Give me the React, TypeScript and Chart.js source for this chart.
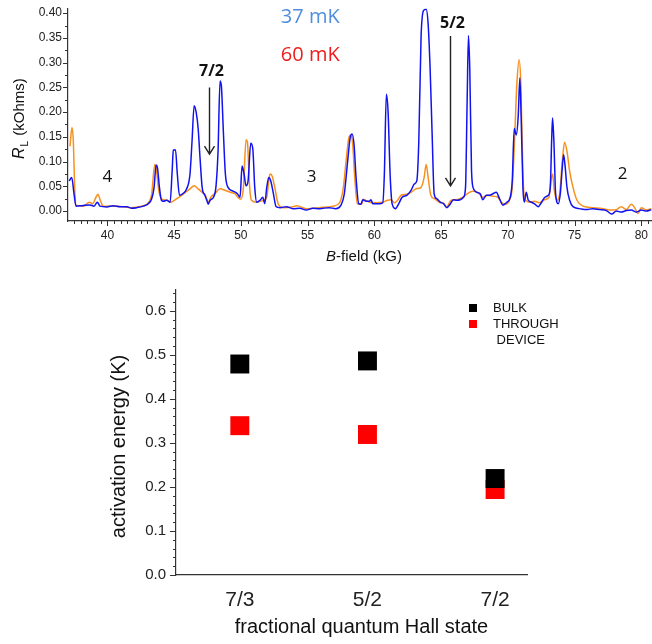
import React, { useEffect, useRef } from 'react';
import { Chart, registerables } from 'chart.js';

Chart.register(...registerables);

// ---------- Top panel: longitudinal resistance vs B-field ----------
const bField37 = [
  37.13, 37.33, 37.5, 37.65, 38.1, 38.7, 39.0, 39.25, 39.45, 39.95, 40.45, 40.95, 41.45, 41.8, 42.2, 42.7,
  43.07, 43.32, 43.5, 43.65, 43.75, 43.9, 44.05, 44.2, 44.45, 44.7, 44.85, 44.94, 45.1, 45.24, 45.4, 45.64,
  45.94, 46.19, 46.34, 46.5, 46.65, 46.8, 46.94, 47.1, 47.3, 47.45, 47.55, 47.7, 47.95, 48.14, 48.29, 48.44,
  48.54, 48.69, 48.84, 49.04, 49.44, 49.74, 49.94, 50.09, 50.24, 50.39, 50.54, 50.74, 50.89, 51.04, 51.19,
  51.44, 51.64, 51.79, 51.94, 52.09, 52.24, 52.44, 52.64, 52.94, 53.4, 53.9, 54.4, 54.9, 55.4, 55.9, 56.6,
  57.1, 57.5, 57.75, 58.0, 58.18, 58.33, 58.48, 58.63, 58.83, 59.0, 59.13, 59.38, 59.63, 59.75, 59.88, 60.38,
  60.63, 60.75, 60.9, 61.03, 61.18, 61.33, 61.58, 61.83, 62.08, 62.43, 62.75, 63.0, 63.18, 63.33, 63.5, 63.68,
  63.88, 64.03, 64.18, 64.33, 64.48, 64.68, 64.93, 65.18, 65.43, 65.68, 65.93, 66.18, 66.43, 66.68, 66.83,
  66.95, 67.05, 67.15, 67.28, 67.43, 67.68, 67.93, 68.13, 68.38, 68.63, 68.88, 69.13, 69.38, 69.63, 69.93,
  70.18, 70.33, 70.48, 70.63, 70.78, 70.9, 71.0, 71.13, 71.23, 71.38, 71.53, 71.78, 72.03, 72.28, 72.53, 72.78,
  73.03, 73.18, 73.28, 73.35, 73.45, 73.58, 73.78, 73.93, 74.08, 74.18, 74.28, 74.43, 74.63, 74.88, 75.38,
  75.88, 76.38, 76.88, 77.38, 77.78, 78.13, 78.5, 78.88, 79.25, 79.63, 80.0, 80.38, 80.75,
];
const rL37 = [
  0.061, 0.068, 0.035, 0.01, 0.011, 0.0125, 0.01, 0.018, 0.01, 0.0085, 0.011, 0.009, 0.009, 0.006, 0.007, 0.01,
  0.015, 0.025, 0.048, 0.093, 0.088, 0.048, 0.022, 0.02, 0.022, 0.018, 0.08, 0.123, 0.124, 0.075, 0.032, 0.035,
  0.045, 0.075, 0.14, 0.213, 0.2, 0.167, 0.108, 0.048, 0.032, 0.022, 0.014, 0.022, 0.028, 0.051, 0.121, 0.263,
  0.253, 0.16, 0.075, 0.048, 0.04, 0.035, 0.028, 0.091, 0.075, 0.051, 0.061, 0.137, 0.127, 0.048, 0.018,
  0.022, 0.028, 0.015, 0.048, 0.068, 0.061, 0.035, 0.009, 0.007, 0.009, 0.005, 0.006, 0.002, 0.006, 0.005, 0.007,
  0.005, 0.012, 0.035, 0.101, 0.147, 0.156, 0.134, 0.068, 0.015, 0.014, 0.023, 0.02, 0.02, 0.023, 0.015, 0.015,
  0.017, 0.075, 0.236, 0.2, 0.075, 0.015, 0.005, 0.015, 0.028, 0.032, 0.042, 0.055, 0.061, 0.141, 0.352, 0.405,
  0.408, 0.378, 0.286, 0.154, 0.035, 0.025, 0.018, 0.015, 0.007, 0.014, 0.023, 0.022, 0.023, 0.028, 0.048,
  0.22, 0.355, 0.286, 0.081, 0.045, 0.038, 0.035, 0.023, 0.032, 0.032, 0.035, 0.038, 0.025, 0.012, 0.018,
  0.028, 0.061, 0.167, 0.154, 0.193, 0.269, 0.187, 0.048, 0.018, 0.038, 0.022, 0.018, 0.014, 0.009, 0.018, 0.028,
  0.032, 0.048, 0.141, 0.188, 0.141, 0.035, 0.015, 0.035, 0.088, 0.114, 0.094, 0.048, 0.022, 0.009, 0.005,
  0.003, 0.005, 0.003, 0.001, -0.006, 0.0, -0.002, 0.001, 0.002, -0.002, 0.002, 0.0, 0.003,
];
const bField60 = [
  37.2, 37.35, 37.45, 37.55, 37.65, 38.2, 38.65, 38.9, 39.15, 39.3, 39.45, 39.7, 40.2, 40.7, 41.2, 41.7, 42.2,
  42.7, 42.95, 43.32, 43.55, 43.65, 43.85, 44.05, 44.45, 44.74, 45.2, 45.7, 46.19, 46.5, 46.8, 47.1, 47.35,
  47.55, 47.75, 48.07, 48.44, 48.8, 49.2, 49.56, 49.8, 49.99, 50.19, 50.39, 50.49, 50.64, 50.79, 51.19, 51.69,
  51.94, 52.09, 52.19, 52.34, 52.54, 52.79, 53.18, 53.9, 54.2, 54.9, 55.9, 56.9, 57.4, 57.68, 57.88, 58.08,
  58.23, 58.38, 58.53, 58.73, 59.03, 59.18, 59.63, 60.13, 60.63, 61.0, 61.25, 61.5, 61.75, 62.0, 62.38, 62.75,
  63.13, 63.5, 63.73, 63.88, 64.03, 64.23, 64.5, 64.88, 65.13, 65.43, 65.75, 66.13, 66.63, 67.0, 67.38, 67.75,
  68.13, 68.5, 68.88, 69.25, 69.5, 69.83, 70.13, 70.33, 70.5, 70.68, 70.85, 70.98, 71.13, 71.28, 71.63, 72.0,
  72.38, 72.75, 73.08, 73.23, 73.35, 73.48, 73.68, 73.88, 74.08, 74.25, 74.43, 74.63, 74.88, 75.18, 75.63,
  76.38, 77.13, 77.63, 78.13, 78.5, 78.88, 79.25, 79.5, 79.75, 80.0, 80.38, 80.75,
];
const rL60 = [
  0.131, 0.169, 0.14, 0.048, 0.012, 0.01, 0.018, 0.015, 0.028, 0.034, 0.023, 0.01, 0.01, 0.01, 0.009, 0.007, 0.008,
  0.011, 0.014, 0.035, 0.094, 0.088, 0.042, 0.025, 0.022, 0.018, 0.025, 0.035, 0.045, 0.051, 0.045, 0.038, 0.032,
  0.018, 0.028, 0.036, 0.045, 0.042, 0.038, 0.035, 0.027, 0.024, 0.048, 0.144, 0.14, 0.055, 0.022, 0.018, 0.022,
  0.028, 0.061, 0.075, 0.071, 0.048, 0.015, 0.007, 0.009, 0.011, 0.005, 0.007, 0.01, 0.017, 0.048, 0.101, 0.147,
  0.154, 0.134, 0.068, 0.015, 0.014, 0.024, 0.018, 0.017, 0.018, 0.022, 0.023, 0.017, 0.022, 0.032, 0.034, 0.038,
  0.045, 0.048, 0.068, 0.094, 0.068, 0.032, 0.025, 0.018, 0.017, 0.009, 0.022, 0.023, 0.028, 0.036, 0.04, 0.038,
  0.028, 0.032, 0.03, 0.028, 0.018, 0.014, 0.023, 0.048, 0.141, 0.259, 0.306, 0.253, 0.075, 0.023, 0.018, 0.02,
  0.017, 0.023, 0.028, 0.061, 0.075, 0.042, 0.022, 0.035, 0.101, 0.139, 0.121, 0.081, 0.048, 0.022, 0.01,
  0.007, 0.005, 0.002, 0.003, 0.009, 0.003, 0.014, 0.007, -0.005, 0.007, 0.002, 0.005,
];

// annotations in data coordinates [B (kG), R (kOhm)]
const tempLabels = ['37 mK', '60 mK'];
const tempLabelPos = [[55.2, 0.392], [55.2, 0.315]];
const fillingLabels = ['4', '3', '2'];
const fillingLabelPos = [[40.0, 0.069], [55.3, 0.069], [78.6, 0.075]];
const arrowLabels = ['7/2', '5/2'];
const arrowX = [47.62, 65.67];
const arrowTop = [0.25, 0.354];
const arrowBottom = [0.115, 0.051];
const arrowLabelY = [0.283, 0.38];

// ---------- Bottom panel: activation energies ----------
const fqhStates = ['7/3', '5/2', '7/2'];
const bulkGap = [0.479, 0.486, 0.219];
const deviceGap = [0.339, 0.319, 0.194];
const legendLabels = ['BULK', 'THROUGH', ' DEVICE'];

const AX = 'Liberation Sans, Arial, sans-serif';
const ANN = '"Open Sans", "Noto Sans", sans-serif';

function drawMinorTicks(ctx: CanvasRenderingContext2D, scale: any, step: number, majorEvery: number, majorLen: number, minorLen: number, horizontal: boolean) {
  const min = scale.min, max = scale.max;
  const start = Math.ceil(min / step - 1e-9);
  const end = Math.floor(max / step + 1e-9);
  ctx.save();
  ctx.strokeStyle = '#333';
  ctx.lineWidth = 1;
  for (let i = start; i <= end; i++) {
    const v = i * step;
    const major = Math.abs(i % majorEvery) === 0;
    const len = major ? majorLen : minorLen;
    const p = Math.round(scale.getPixelForValue(v)) + 0.5;
    ctx.beginPath();
    if (horizontal) {
      const y0 = scale.top;
      ctx.moveTo(p, y0);
      ctx.lineTo(p, y0 + len);
    } else {
      const x0 = scale.right;
      ctx.moveTo(x0, p);
      ctx.lineTo(x0 - len, p);
    }
    ctx.stroke();
  }
  ctx.restore();
}

const topPlugin = {
  id: 'topDecor',
  afterDraw(chart: any) {
    const ctx: CanvasRenderingContext2D = chart.ctx;
    const xs = chart.scales.x, ys = chart.scales.y;
    const ca = chart.chartArea;
    drawMinorTicks(ctx, xs, 0.5, 10, 5, 3, true);
    drawMinorTicks(ctx, ys, 0.025, 2, 5, 3, false);
    ctx.save();
    // temperature labels
    ctx.textAlign = 'center';
    ctx.textBaseline = 'middle';
    ctx.font = `20px ${ANN}`;
    const tcol = ['#4f8edc', '#f21c1c'];
    tempLabels.forEach((t, i) => {
      ctx.fillStyle = tcol[i];
      ctx.fillText(t, xs.getPixelForValue(tempLabelPos[i][0]), ys.getPixelForValue(tempLabelPos[i][1]));
    });
    // filling factor labels
    ctx.fillStyle = '#111';
    ctx.font = `17px ${ANN}`;
    fillingLabels.forEach((t, i) => {
      ctx.fillText(t, xs.getPixelForValue(fillingLabelPos[i][0]), ys.getPixelForValue(fillingLabelPos[i][1]));
    });
    // arrows
    ctx.font = `bold 16px ${ANN}`;
    arrowLabels.forEach((t, i) => {
      const x = Math.round(xs.getPixelForValue(arrowX[i])) + 0.5;
      const y0 = ys.getPixelForValue(arrowTop[i]);
      const y1 = ys.getPixelForValue(arrowBottom[i]);
      ctx.fillStyle = '#111';
      ctx.fillText(t, x + 2, ys.getPixelForValue(arrowLabelY[i]));
      ctx.strokeStyle = '#222';
      ctx.lineWidth = 1.4;
      ctx.beginPath();
      ctx.moveTo(x, y0);
      ctx.lineTo(x, y1);
      ctx.moveTo(x - 5, y1 - 8);
      ctx.lineTo(x, y1);
      ctx.lineTo(x + 5, y1 - 8);
      ctx.stroke();
    });
    // y title with subscript
    ctx.fillStyle = '#111';
    ctx.textAlign = 'left';
    ctx.textBaseline = 'alphabetic';
    const parts = [
      { t: 'R', f: `italic 16px ${AX}`, dy: 0 },
      { t: 'L', f: `10px ${AX}`, dy: 4 },
      { t: ' (kOhms)', f: `15px ${AX}`, dy: 0 },
    ];
    let total = 0;
    parts.forEach((p) => { ctx.font = p.f; total += ctx.measureText(p.t).width + (p.t === 'L' ? 2 : 0); });
    ctx.save();
    ctx.translate(24, (ca.top + ca.bottom) / 2 + 4);
    ctx.rotate(-Math.PI / 2);
    let cx = -total / 2;
    parts.forEach((p) => {
      ctx.font = p.f;
      ctx.fillText(p.t, cx + (p.t === 'L' ? 1 : 0), p.dy);
      cx += ctx.measureText(p.t).width + (p.t === 'L' ? 2 : 0);
    });
    ctx.restore();
    // x title
    const xparts = [
      { t: 'B', f: `italic 15px ${AX}` },
      { t: '-field (kG)', f: `15px ${AX}` },
    ];
    let xt = 0;
    xparts.forEach((p) => { ctx.font = p.f; xt += ctx.measureText(p.t).width; });
    let px = (ca.left + ca.right) / 2 + 4 - xt / 2;
    const py = ca.bottom + 40;
    xparts.forEach((p) => {
      ctx.font = p.f;
      ctx.fillText(p.t, px, py);
      px += ctx.measureText(p.t).width;
    });
    ctx.restore();
  },
};

const bottomPlugin = {
  id: 'bottomDecor',
  afterDraw(chart: any) {
    const ctx: CanvasRenderingContext2D = chart.ctx;
    const ys = chart.scales.y;
    const ca = chart.chartArea;
    drawMinorTicks(ctx, ys, 0.02, 5, 6, 3, false);
    ctx.save();
    // legend
    const lx = ca.right - 54;
    const ly = ca.top + 18;
    const cols = ['#000000', '#ff0000'];
    ctx.font = `13px ${AX}`;
    ctx.textBaseline = 'middle';
    ctx.textAlign = 'left';
    ctx.fillStyle = '#111';
    for (let i = 0; i < 2; i++) {
      ctx.fillStyle = cols[i];
      ctx.fillRect(lx - 4, ly + i * 16 - 4, 8, 8);
      ctx.fillStyle = '#111';
      ctx.fillText(legendLabels[i], lx + 20, ly + i * 16);
    }
    ctx.fillText(legendLabels[2], lx + 20, ly + 32);
    // axis titles
    ctx.fillStyle = '#111';
    ctx.font = `20px ${AX}`;
    ctx.textAlign = 'center';
    ctx.textBaseline = 'middle';
    ctx.fillText('fractional quantum Hall state', (ca.left + ca.right) / 2 + 10, ca.bottom + 52);
    ctx.save();
    ctx.translate(ca.left - 57, (ca.top + ca.bottom) / 2 + 14);
    ctx.rotate(-Math.PI / 2);
    ctx.fillText('activation energy (K)', 0, 0);
    ctx.restore();
    ctx.restore();
  },
};

export default function App() {
  const topRef = useRef<HTMLCanvasElement>(null);
  const botRef = useRef<HTMLCanvasElement>(null);

  useEffect(() => {
    const top = new Chart(topRef.current as HTMLCanvasElement, {
      type: 'line',
      data: {
        datasets: [
          {
            label: '37 mK',
            data: bField37.map((b, i) => ({ x: b, y: rL37[i] })),
            borderColor: '#1212f0',
            borderWidth: 1.5,
            pointRadius: 0,
            cubicInterpolationMode: 'monotone',
          },
          {
            label: '60 mK',
            data: bField60.map((b, i) => ({ x: b, y: rL60[i] })),
            borderColor: '#f7901e',
            borderWidth: 1.5,
            pointRadius: 0,
            cubicInterpolationMode: 'monotone',
          },
        ],
      },
      options: {
        animation: false,
        responsive: false,
        events: [],
        layout: { padding: { top: 4, left: 0, right: 0, bottom: 0 } },
        plugins: { legend: { display: false }, tooltip: { enabled: false } },
        scales: {
          x: {
            type: 'linear',
            min: 37.05,
            max: 80.8,
            afterFit: (s: any) => { s.height = 49; },
            grid: { display: false, drawTicks: true, tickLength: 5 },
            border: { display: true, color: '#333', width: 1.2 },
            ticks: {
              stepSize: 5, includeBounds: false, padding: 2, color: '#222', maxRotation: 0, autoSkip: false,
              font: { family: AX, size: 12 },
            },
          },
          y: {
            type: 'linear',
            min: -0.02,
            max: 0.41,
            afterFit: (s: any) => { s.width = 68; },
            grid: { display: false, drawTicks: true, tickLength: 5 },
            border: { display: true, color: '#333', width: 1.2 },
            ticks: {
              stepSize: 0.05, includeBounds: false, padding: 1, color: '#222', autoSkip: false,
              font: { family: AX, size: 12 },
              callback: (v: any) => Number(v).toFixed(2),
            },
          },
        },
      },
      plugins: [topPlugin],
    } as any);

    const bot = new Chart(botRef.current as HTMLCanvasElement, {
      type: 'scatter',
      data: {
        datasets: [
          {
            label: 'BULK',
            data: bulkGap.map((v, i) => ({ x: i + 1, y: v })),
            backgroundColor: '#000000',
            borderWidth: 0,
            pointStyle: 'rect',
            pointRadius: 13.4,
          },
          {
            label: 'THROUGH DEVICE',
            data: deviceGap.map((v, i) => ({ x: i + 1, y: v })),
            backgroundColor: '#ff0000',
            borderWidth: 0,
            pointStyle: 'rect',
            pointRadius: 13.4,
          },
        ],
      },
      options: {
        animation: false,
        responsive: false,
        events: [],
        layout: { padding: { top: 20, left: 0, right: 125, bottom: 0 } },
        plugins: { legend: { display: false }, tooltip: { enabled: false } },
        scales: {
          x: {
            type: 'linear',
            min: 0.5,
            max: 3.25,
            afterFit: (s: any) => { s.height = 69; },
            grid: { display: false, drawTicks: false },
            border: { display: true, color: '#333', width: 1.2 },
            ticks: {
              stepSize: 1, includeBounds: false, padding: 13, color: '#222', maxRotation: 0, autoSkip: false,
              font: { family: AX, size: 21 },
              callback: (v: any) => fqhStates[Math.round(Number(v)) - 1] ?? '',
            },
          },
          y: {
            type: 'linear',
            min: 0,
            max: 0.647,
            afterFit: (s: any) => { s.width = 176; },
            grid: { display: false, drawTicks: true, tickLength: 6 },
            border: { display: true, color: '#333', width: 1.2 },
            ticks: {
              stepSize: 0.1, includeBounds: false, padding: 4, color: '#222', autoSkip: false,
              font: { family: AX, size: 15 },
              callback: (v: any) => Number(v).toFixed(1),
            },
          },
        },
      },
      plugins: [bottomPlugin],
    } as any);

    return () => {
      top.destroy();
      bot.destroy();
    };
  }, []);

  return (
    <div style={{ position: 'absolute', left: 0, top: 0, width: 652, height: 644, background: '#fff' }}>
      <canvas ref={topRef} width={652} height={270} style={{ position: 'absolute', left: 0, top: 0, display: 'block' }} />
      <canvas ref={botRef} width={652} height={374} style={{ position: 'absolute', left: 0, top: 270, display: 'block' }} />
    </div>
  );
}
